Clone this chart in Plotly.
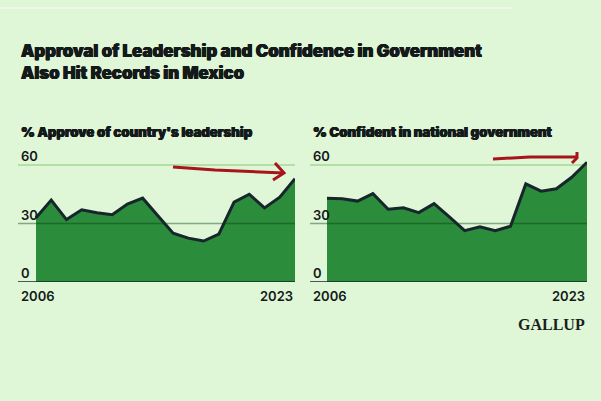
import plotly.graph_objects as go

years = list(range(2006, 2024))
approve_leadership = [33, 42, 32, 37, 35.5, 34.5, 40, 43, 34, 25, 22.5, 21, 24.5, 41, 45, 38, 43.5, 53]
confident_government = [43, 42.7, 41.5, 45.3, 37.3, 38.1, 35.6, 40.2, 33.4, 26.3, 28.3, 26.3, 28.6, 50.3, 46.6, 47.8, 53.7, 61.4]
y_ticks = [0, 30, 60]
x_tick_labels = ["2006", "2023"]
subtitles = ["% Approve of country's leadership", "% Confident in national government"]
title_text = "Approval of Leadership and Confidence in Government<br>Also Hit Records in Mexico"

W, H = 601, 401
BG = "#dff6d7"
FILL = "#2b8c3c"
LINE = "#17262b"
TXT = "#141a1a"
FONT = "Inter"
THICK = "0.45px 0 0 #141a1a, -0.45px 0 0 #141a1a, 0 0.3px 0 #141a1a"

def px(x):
    return x / W

def py(y):
    return 1 - y / H

fig = go.Figure()

panels = [
    dict(xref="x", yref="y", left=18, right=295, start=36, data=approve_leadership, sub=subtitles[0]),
    dict(xref="x2", yref="y2", left=310, right=587, start=327, data=confident_government, sub=subtitles[1]),
]
y_bottom, y_top_val, px_per_unit = 282, 64, 1.95
y_dom = [py(y_bottom), py(y_bottom - y_top_val * px_per_unit)]

for i, p in enumerate(panels):
    fig.add_trace(go.Scatter(
        x=years, y=p["data"], mode="lines", fill="tozeroy",
        fillcolor=FILL, line=dict(color=LINE, width=3),
        xaxis=p["xref"], yaxis=p["yref"], hoverinfo="skip", showlegend=False))
    pxyr = (p["right"] - p["start"]) / (years[-1] - years[0])
    x0 = years[0] - (p["start"] - p["left"]) / pxyr
    axkey = "xaxis" if i == 0 else "xaxis2"
    aykey = "yaxis" if i == 0 else "yaxis2"
    fig.update_layout(**{
        axkey: dict(domain=[px(p["left"]), px(p["right"])], range=[x0, years[-1]],
                    visible=False, anchor=p["yref"]),
        aykey: dict(domain=y_dom, range=[0, y_top_val], visible=False, anchor=p["xref"]),
    })
    dom = p["xref"] + " domain"
    fig.add_shape(type="line", xref=dom, yref=p["yref"], x0=0, x1=1, y0=60, y1=60,
                  line=dict(color="#a6d897", width=1.5), layer="below")
    fig.add_shape(type="line", xref=dom, yref=p["yref"], x0=0, x1=1, y0=30, y1=30,
                  line=dict(color="rgba(5,60,15,0.42)", width=1.5), layer="above")
    fig.add_shape(type="line", xref=dom, yref=p["yref"], x0=0, x1=1, y0=0, y1=0,
                  line=dict(color=LINE, width=1.6), layer="above")
    for t in y_ticks:
        fig.add_annotation(x=px(p["left"] + 1), xref="paper", xanchor="left",
                           y=t, yref=p["yref"], yanchor="middle", yshift=9,
                           text=str(t), showarrow=False,
                           font=dict(family=FONT, size=13, color=TXT, weight=600))
    fig.add_annotation(x=px(p["left"] + 1), xref="paper", xanchor="left",
                       y=py(296), yref="paper", yanchor="middle",
                       text=x_tick_labels[0], showarrow=False,
                       font=dict(family=FONT, size=13, color=TXT, weight=600))
    fig.add_annotation(x=px(p["right"]), xref="paper", xanchor="right",
                       y=py(296), yref="paper", yanchor="middle",
                       text=x_tick_labels[1], showarrow=False,
                       font=dict(family=FONT, size=13, color=TXT, weight=600))
    fig.add_annotation(x=px(p["left"] + 1), xref="paper", xanchor="left",
                       y=py(132), yref="paper", yanchor="middle",
                       text=p["sub"], showarrow=False,
                       font=dict(family=FONT, size=13.2, color=TXT, weight=900, shadow=THICK))

fig.add_annotation(x=px(19), xref="paper", xanchor="left", y=py(39), yref="paper",
                   yanchor="top", text=title_text, showarrow=False, align="left",
                   font=dict(family=FONT, size=16.8, color=TXT, weight=900, shadow=THICK))

fig.add_annotation(x=px(587), xref="paper", xanchor="right", y=py(324), yref="paper",
                   yanchor="middle", text="GALLUP", showarrow=False,
                   font=dict(family="Liberation Serif", size=16, color="#1a1f1c", weight=700))

RED = "#a8141b"
def path(points):
    return "M " + " L ".join(f"{px(x)},{py(y)}" for x, y in points)

fig.add_shape(type="path", xref="paper", yref="paper",
              path=path([(173, 167), (215, 170), (284, 173)]),
              line=dict(color=RED, width=3), layer="above")
fig.add_shape(type="path", xref="paper", yref="paper",
              path=path([(275, 163), (284, 173), (273, 180)]),
              line=dict(color=RED, width=3), layer="above")
fig.add_shape(type="path", xref="paper", yref="paper",
              path=path([(493, 159), (530, 157), (577, 157)]),
              line=dict(color=RED, width=3), layer="above")
fig.add_shape(type="path", xref="paper", yref="paper",
              path=path([(577, 152), (577, 158), (572, 163)]),
              line=dict(color=RED, width=3), layer="above")

fig.add_shape(type="line", xref="paper", yref="paper", x0=0, x1=px(512), y0=py(8), y1=py(8),
              line=dict(color="rgba(255,255,255,0.8)", width=1.2))

fig.update_layout(width=W, height=H, margin=dict(l=0, r=0, t=0, b=0),
                  paper_bgcolor=BG, plot_bgcolor="rgba(0,0,0,0)", showlegend=False)

fig.write_html("out.html", config={"displayModeBar": False},
               post_script="document.body.style.margin='0';document.body.style.background='" + BG + "';")
